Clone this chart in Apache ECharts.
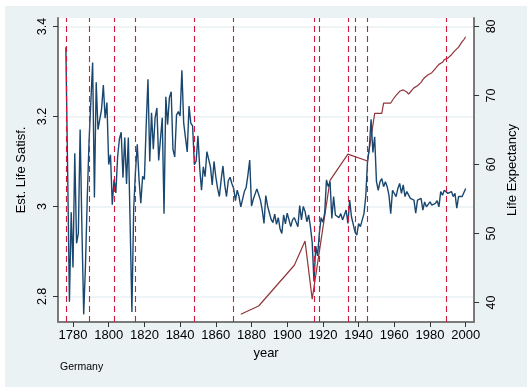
<!DOCTYPE html>
<html>
<head>
<meta charset="utf-8">
<script src="https://cdn.jsdelivr.net/npm/echarts@6/dist/echarts.min.js"></script>
<style>html,body{margin:0;padding:0;background:#fff}#c{width:527px;height:387px}</style>
</head>
<body>
<div id="c"></div>
<script>
// ---- data ----
const xTicks = [1780, 1800, 1820, 1840, 1860, 1880, 1900, 1920, 1940, 1960, 1980, 2000];
const leftTicks = [2.8, 3, 3.2, 3.4];
const rightTicks = [40, 50, 60, 70, 80];
const eventYears = [1776, 1789, 1803, 1815, 1848, 1870, 1915, 1918, 1934, 1938, 1945, 1989];

const satFirstYear = 1776;
const satisfaction = [
  3.354, 3.08, 2.788, 2.987, 2.864, 3.118, 2.918, 2.940, 3.171, 2.95,   // 1776-1785
  2.760, 2.87, 3.02, 3.145, 3.141, 3.320, 3.020, 3.276, 3.171, 3.170,   // 1786-1795
  3.216, 3.270, 3.196, 3.231, 3.093, 3.115, 3.004, 3.060, 3.030, 3.11,  // 1796-1805
  3.150, 3.165, 3.064, 3.153, 3.050, 3.153, 2.963, 2.765, 2.993, 3.078, // 1806-1815
  3.138, 3.060, 3.007, 3.067, 3.060, 3.18, 3.283, 3.100, 3.208, 3.127,  // 1816-1825
  3.197, 3.219, 3.102, 3.101, 3.197, 2.984, 3.244, 3.182, 3.242, 3.255, // 1826-1835
  3.127, 3.110, 3.203, 3.211, 3.201, 3.303, 3.186, 3.153, 3.121, 3.223, // 1836-1845
  3.185, 3.179, 3.093, 3.101, 3.157, 3.085, 3.036, 3.088, 3.066, 3.122, // 1846-1855
  3.122, 3.088, 3.048, 3.100, 3.066, 3.040, 3.022, 3.059, 3.090, 3.048, // 1856-1865
  3.022, 3.057, 3.065, 3.051, 3.040, 3.013, 3.036, 3.022, 2.999, 2.999, // 1866-1875
  3.033, 3.042, 3.07, 3.103, 3.001, 3.016, 3.016, 3.039, 3.040, 3.014,  // 1876-1885
  2.992, 2.962, 3.024, 3.001, 2.999, 2.971, 2.964, 2.983, 2.960, 2.975, // 1886-1895
  2.950, 2.940, 2.981, 2.961, 2.985, 2.970, 2.955, 2.970, 2.975, 2.971, // 1896-1905
  2.955, 3.002, 2.970, 3.000, 2.989, 2.966, 2.981, 2.955, 2.920, 2.833, // 1906-1915
  2.912, 2.890, 2.940, 2.975, 2.965, 2.985, 3.059, 3.044, 3.055, 2.973, // 1916-1925
  3.022, 2.981, 2.981, 2.975, 2.984, 2.970, 2.981, 2.992, 2.962, 3.014, // 1926-1935
  2.977, 2.981, 2.943, 2.936, 2.962, 2.955, 2.956, 2.984, 3.022, 3.100, // 1936-1945
  3.130, 3.194, 3.120, 3.155, 3.055, 3.036, 3.055, 3.062, 3.044, 3.055, // 1946-1955
  3.044, 3.025, 2.984, 3.036, 3.040, 3.022, 3.040, 3.051, 3.029, 3.048, // 1956-1965
  3.022, 3.033, 3.036, 3.018, 3.022, 3.014, 2.985, 3.014, 3.010, 3.018, // 1966-1975
  2.992, 3.010, 2.999, 3.001, 3.010, 3.003, 3.007, 3.007, 3.013, 2.999, // 1976-1985
  3.033, 3.025, 3.036, 3.040, 3.029, 3.025, 3.033, 3.022, 3.029, 2.996, // 1986-1995
  3.022, 3.025, 3.022, 3.018, 3.040                                     // 1996-2000
];

const lifeYears = [1874, 1884, 1904, 1910, 1914, 1924, 1934, 1945, 1949, 1953, 1954, 1958,
  1960, 1961, 1962, 1963, 1964, 1965, 1966, 1967, 1968, 1969, 1970, 1971, 1972, 1973, 1974,
  1975, 1976, 1977, 1978, 1979, 1980, 1981, 1982, 1983, 1984, 1985, 1986, 1987, 1988, 1989,
  1990, 1991, 1992, 1993, 1994, 1995, 1996, 1997, 1998, 1999, 2000];
const lifeExp = [38.3, 39.5, 45.4, 48.9, 40.5, 57.7, 61.5, 60.5, 67.4, 67.4, 68.9, 68.9,
  69.7, 70.0, 70.3, 70.6, 70.5, 70.8, 70.8, 70.5, 70.2, 70.5, 70.8, 71.1, 71.2, 71.4, 71.5,
  71.9, 72.3, 72.6, 72.7, 73.0, 73.1, 73.3, 73.6, 73.9, 74.2, 74.5, 74.6, 74.8, 75.2, 75.4,
  75.4, 75.6, 75.9, 76.0, 76.5, 76.7, 77.0, 77.4, 77.8, 78.1, 78.5];

// ---- chart ----
const FONT = 'Liberation Sans, Arial, Helvetica, sans-serif';
const satData = satisfaction.map((v, i) => [satFirstYear + i, v]);
const lifeData = lifeYears.map((y, i) => [y, lifeExp[i]]);

const chart = echarts.init(document.getElementById('c'), null, {renderer: 'canvas'});
chart.setOption({
  animation: false,
  backgroundColor: '#ffffff',
  textStyle: {fontFamily: FONT},
  graphic: [
    {type: 'rect', z: -10, silent: true, shape: {x: 5, y: 6, width: 522, height: 381}, style: {fill: '#eaf2f3'}},
    {type: 'text', left: 60, top: 362, silent: true, style: {text: 'Germany', fontSize: 10.5, fontFamily: FONT, fill: '#000'}}
  ],
  grid: {left: 58, right: 45, top: 18, bottom: 65, show: true, backgroundColor: '#ffffff', borderWidth: 0},
  xAxis: {
    type: 'value', min: 1771.6, max: 2004.7,
    name: 'year', nameLocation: 'middle', nameGap: 22,
    nameTextStyle: {fontSize: 13, color: '#000', fontFamily: FONT},
    axisLine: {show: true, onZero: false, lineStyle: {color: '#7a7a7a', width: 2}},
    axisTick: {show: true, length: 5, customValues: xTicks, lineStyle: {color: '#333', width: 1}},
    axisLabel: {show: true, customValues: xTicks, margin: 7, fontSize: 13, color: '#000', fontFamily: FONT,
      formatter: v => String(Math.round(v))},
    splitLine: {show: false}
  },
  yAxis: [
    {
      type: 'value', min: 2.743, max: 3.419, position: 'left',
      name: 'Est. Life Satisf.', nameLocation: 'middle', nameGap: 24,
      nameTextStyle: {fontSize: 13, color: '#000', fontFamily: FONT},
      axisLine: {show: true, onZero: false, lineStyle: {color: '#7a7a7a', width: 2}},
      axisTick: {show: true, length: 5, customValues: leftTicks, lineStyle: {color: '#333', width: 1}},
      axisLabel: {show: true, customValues: leftTicks, rotate: 90, margin: 9, fontSize: 12.5, color: '#000', fontFamily: FONT,
        formatter: v => String(Math.round(v * 10) / 10)},
      splitLine: {show: true, lineStyle: {color: '#eaf2f3', width: 1.5}}
    },
    {
      type: 'value', min: 37.18, max: 81.22, position: 'right',
      name: 'Life Expectancy', nameLocation: 'middle', nameGap: 20,
      nameTextStyle: {fontSize: 13, color: '#000', fontFamily: FONT},
      axisLine: {show: true, onZero: false, lineStyle: {color: '#7a7a7a', width: 2}},
      axisTick: {show: true, length: 5, customValues: rightTicks, lineStyle: {color: '#333', width: 1}},
      axisLabel: {show: true, customValues: rightTicks, rotate: 90, margin: 11, fontSize: 12.5, color: '#000', fontFamily: FONT,
        formatter: v => String(Math.round(v))},
      splitLine: {show: false}
    }
  ],
  series: [
    {
      name: 'Est. Life Satisf.', type: 'line', yAxisIndex: 0, data: satData,
      showSymbol: false, symbol: 'none', sampling: null, z: 3,
      lineStyle: {color: '#1a476f', width: 1.4},
      markLine: {
        silent: true, symbol: ['none', 'none'], label: {show: false},
        lineStyle: {color: '#d0173e', type: [6, 4], width: 1.1},
        emphasis: {disabled: true},
        data: eventYears.map(y => ({xAxis: y}))
      }
    },
    {
      name: 'Life Expectancy', type: 'line', yAxisIndex: 1, data: lifeData,
      showSymbol: false, symbol: 'none', z: 2,
      lineStyle: {color: '#90353b', width: 1.2}
    }
  ]
});
</script>
</body>
</html>
